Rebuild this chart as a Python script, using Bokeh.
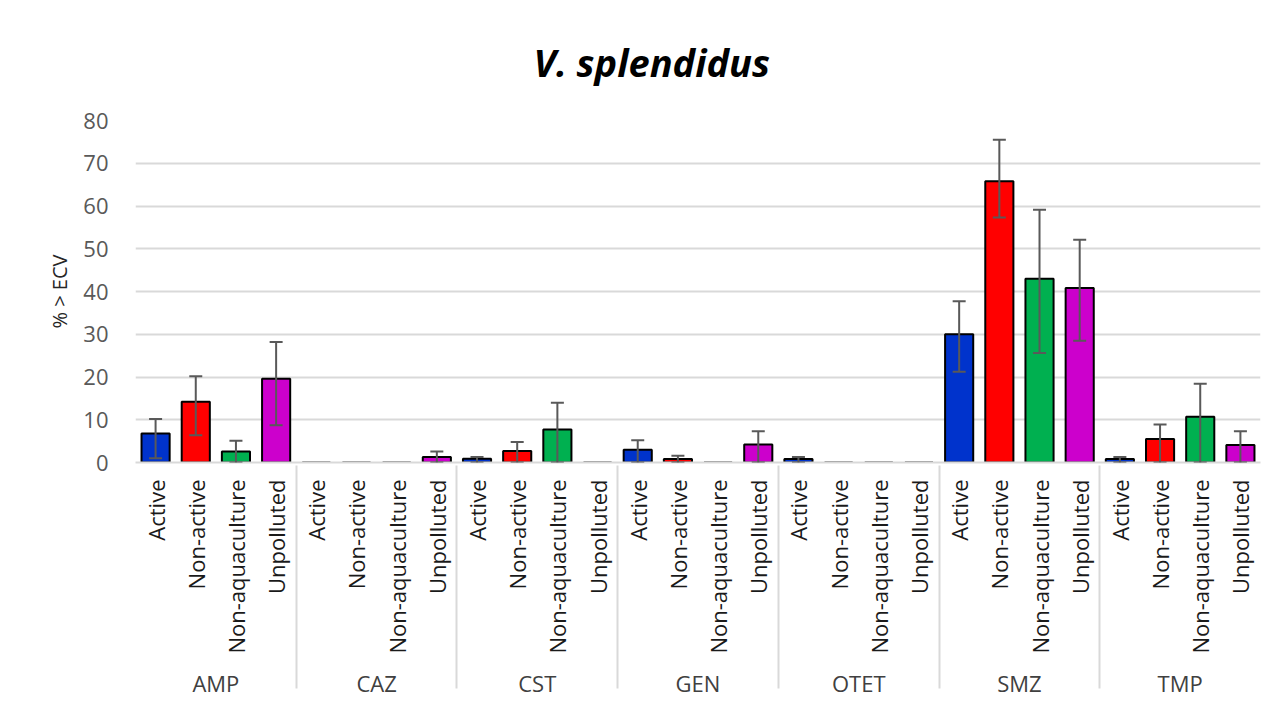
import math
from bokeh.plotting import figure
from bokeh.models import (FactorRange, ColumnDataSource, Whisker, TeeHead, Range1d,
                          FixedTicker)
from bokeh.embed import file_html
from bokeh.resources import INLINE

# ---------------- data ----------------
drugs = ["AMP", "CAZ", "CST", "GEN", "OTET", "SMZ", "TMP"]
sites = ["Active", "Non-active", "Non-aquaculture", "Unpolluted"]
site_colors = ["#0033CC", "#FF0000", "#00B050", "#CC00CC"]

# % > ECV, one list per site (in drug order)
active          = [6.8, 0.0, 0.9, 3.0, 0.8, 30.0, 0.8]
non_active      = [14.2, 0.0, 2.7, 0.8, 0.0, 65.8, 5.5]
non_aquaculture = [2.6, 0.0, 7.7, 0.0, 0.0, 43.0, 10.7]
unpolluted      = [19.6, 1.3, 0.0, 4.2, 0.0, 40.8, 4.1]

# upper / lower bounds of the error bars
active_hi          = [10.2, 0.0, 1.3, 5.2, 1.3, 37.7, 1.3]
non_active_hi      = [20.2, 0.0, 4.8, 1.6, 0.0, 75.5, 8.9]
non_aquaculture_hi = [5.1, 0.0, 14.0, 0.0, 0.0, 59.1, 18.4]
unpolluted_hi      = [28.2, 2.6, 0.0, 7.3, 0.0, 52.1, 7.3]

active_lo          = [1.0, 0.0, 0.0, 0.0, 0.0, 21.2, 0.0]
non_active_lo      = [6.4, 0.0, 0.0, 0.0, 0.0, 57.3, 0.0]
non_aquaculture_lo = [0.0, 0.0, 0.0, 0.0, 0.0, 25.6, 0.0]
unpolluted_lo      = [8.7, 0.0, 0.0, 0.0, 0.0, 28.5, 0.0]

y_ticks = [0, 10, 20, 30, 40, 50, 60, 70, 80]

# ---------------- build table ----------------
vals = [active, non_active, non_aquaculture, unpolluted]
his = [active_hi, non_active_hi, non_aquaculture_hi, unpolluted_hi]
los = [active_lo, non_active_lo, non_aquaculture_lo, unpolluted_lo]

x, top, color, wx, wup, wlo = [], [], [], [], [], []
for di, d in enumerate(drugs):
    for si, s in enumerate(sites):
        x.append((d, s))
        top.append(vals[si][di])
        color.append(site_colors[si])
        if vals[si][di] > 0:
            wx.append((d, s))
            wup.append(his[si][di])
            wlo.append(los[si][di])

src = ColumnDataSource(dict(x=x, top=top, color=color))
wsrc = ColumnDataSource(dict(x=wx, upper=wup, lower=wlo))

FONT = "Open Sans"

p = figure(
    width=1264, height=700,
    x_range=FactorRange(*x, factor_padding=0, group_padding=0,
                        subgroup_padding=0, range_padding=0),
    y_range=Range1d(0, 80),
    output_backend="svg", toolbar_location=None,
    min_border_left=135, min_border_right=4, min_border_top=120,
    min_border_bottom=238,
)
p.outline_line_color = None
p.background_fill_color = "white"
p.border_fill_color = "white"

# title
p.title.text = "V. splendidus"
p.title.text_font = FONT
p.title.text_font_size = "38px"
p.title.text_font_style = "bold italic"
p.title.text_color = "black"
p.title.align = "left"
p.title.offset = 398
p.title.standoff = 63
p.title.vertical_align = "middle"

# bars
p.vbar(x="x", top="top", width=0.7, source=src, fill_color="color",
       line_color="black", line_width=2)

# error bars
w = Whisker(source=wsrc, base="x", upper="upper", lower="lower",
            line_color="#595959", line_width=2,
            upper_head=TeeHead(size=13, line_color="#595959", line_width=2),
            lower_head=TeeHead(size=13, line_color="#595959", line_width=2))
w.level = "annotation"
p.add_layout(w)

# y axis
p.yaxis.ticker = FixedTicker(ticks=y_ticks)
p.yaxis.axis_line_color = None
p.yaxis.major_tick_line_color = None
p.yaxis.minor_tick_line_color = None
p.yaxis.major_label_standoff = 21
p.yaxis.major_label_text_font = FONT
p.yaxis.major_label_text_font_size = "22px"
p.yaxis.major_label_text_color = "#595959"
p.yaxis.axis_label = "% > ECV"
p.yaxis.axis_label_text_font = FONT
p.yaxis.axis_label_text_font_size = "20px"
p.yaxis.axis_label_text_font_style = "normal"
p.yaxis.axis_label_text_color = "#262626"
p.yaxis.axis_label_standoff = 7

p.ygrid.ticker = FixedTicker(ticks=y_ticks)
p.ygrid.grid_line_color = "#D9D9D9"
p.ygrid.grid_line_width = 2
p.xgrid.grid_line_color = None

# x axis (nested)
p.xaxis.major_label_orientation = math.pi / 2
p.xaxis.major_label_text_font = FONT
p.xaxis.major_label_text_font_size = "22px"
p.xaxis.major_label_text_color = "#1a1a1a"
p.xaxis.major_label_standoff = 11
p.xaxis.group_text_font = FONT
p.xaxis.group_text_font_size = "22px"
p.xaxis.group_text_font_style = "normal"
p.xaxis.group_text_color = "#404040"
p.xaxis.axis_line_color = "#D9D9D9"
p.xaxis.axis_line_width = 2
p.xaxis.major_tick_line_color = None
p.xaxis.minor_tick_line_color = None
p.xaxis.separator_line_color = "#D9D9D9"
p.xaxis.separator_line_width = 2

open("out.html", "w").write(file_html(p, INLINE))
